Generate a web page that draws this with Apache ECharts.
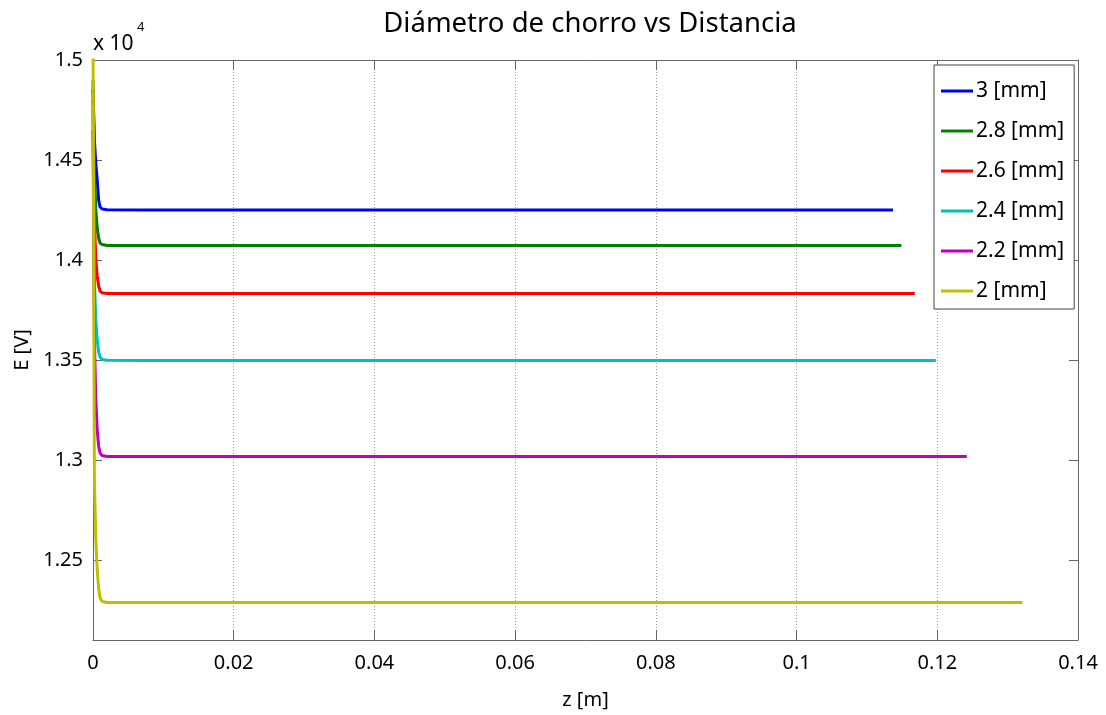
<!DOCTYPE html>
<html>
<head>
<meta charset="utf-8">
<script src="https://cdn.jsdelivr.net/npm/echarts@6/dist/echarts.min.js"></script>
<style>html,body{margin:0;padding:0;background:#fff;}#c{width:1106px;height:715px;}</style>
</head>
<body>
<div id="c"></div>
<script>
// z [m] sample positions shared by the start of every curve
var zStart = [0, 0.0002, 0.0004, 0.0006, 0.0008, 0.001, 0.0013, 0.002, 0.0075];
// series names
var seriesNames = ['3 [mm]', '2.8 [mm]', '2.6 [mm]', '2.4 [mm]', '2.2 [mm]', '2 [mm]'];
// last z value of each curve
var zEnd = [0.1137, 0.1149, 0.1168, 0.1198, 0.1242, 0.1321];
// E [V] values at zStart points, then at zEnd
var e3mm  = [14855, 14600, 14480, 14400, 14300, 14265, 14255, 14251, 14250, 14250];
var e28mm = [14900, 14450, 14250, 14160, 14110, 14085, 14077, 14073, 14072, 14072];
var e26mm = [14800, 14200, 14000, 13920, 13870, 13845, 13836, 13833, 13832, 13832];
var e24mm = [14750, 13900, 13700, 13600, 13540, 13515, 13503, 13499, 13498, 13498];
var e22mm = [14650, 13600, 13300, 13150, 13070, 13035, 13022, 13018, 13017, 13017];
var e2mm  = [15200, 12900, 12600, 12450, 12360, 12310, 12292, 12288, 12287, 12287];
var seriesValues = [e3mm, e28mm, e26mm, e24mm, e22mm, e2mm];
// tick labels
var yTicks = [12500, 13000, 13500, 14000, 14500, 15000];
var colors = ['#0000FF', '#008000', '#FF0000', '#00BFBF', '#BF00BF', '#BFBF00'];

var FONT = 'Noto Sans';
var series = seriesNames.map(function (name, i) {
  var zs = zStart.concat([zEnd[i]]);
  return {
    name: name,
    type: 'line',
    xAxisIndex: 0,
    yAxisIndex: 0,
    showSymbol: false,
    symbol: 'none',
    lineStyle: { width: 3, color: colors[i] },
    itemStyle: { color: colors[i] },
    data: zs.map(function (z, k) { return [z, seriesValues[i][k]]; })
  };
});

var axisLineStyle = { color: '#666', width: 1 };
var chart = echarts.init(document.getElementById('c'), null, { renderer: 'canvas' });
chart.setOption({
  animation: false,
  backgroundColor: '#fff',
  textStyle: { fontFamily: FONT },
  title: {
    text: 'Diámetro de chorro vs Distancia',
    left: 585, top: 5, textAlign: 'center',
    textStyle: { fontFamily: FONT, fontSize: 27.5, fontWeight: 'normal', color: '#000' }
  },
  grid: { left: 93, right: 28, top: 60, bottom: 75, containLabel: false },
  legend: {
    orient: 'vertical',
    left: 934, top: 65,
    padding: [14, 10, 6, 7],
    itemGap: 16,
    itemWidth: 32, itemHeight: 3,
    icon: 'rect',
    borderColor: '#444', borderWidth: 1,
    backgroundColor: '#fff',
    textStyle: { fontFamily: FONT, fontSize: 21, color: '#000', lineHeight: 24, padding: [0, 0, 0, -2] },
    data: seriesNames
  },
  xAxis: [{
    type: 'value', position: 'bottom', min: 0, max: 0.14, interval: 0.02,
    name: 'z [m]', nameLocation: 'middle', nameGap: 50,
    nameTextStyle: { fontFamily: FONT, fontSize: 20, color: '#000' },
    axisLine: { show: true, onZero: false, lineStyle: axisLineStyle },
    axisTick: { show: true, inside: true, length: 10, lineStyle: axisLineStyle },
    axisLabel: { show: true, margin: 13, fontFamily: FONT, fontSize: 20, color: '#000',
      formatter: function (v) { return String(parseFloat(v.toFixed(2))); } },
    splitLine: { show: true, lineStyle: { color: '#999', width: 1, type: [1, 2] } }
  }, {
    type: 'value', position: 'top', min: 0, max: 0.14, interval: 0.02,
    axisLine: { show: true, onZero: false, lineStyle: axisLineStyle },
    axisTick: { show: true, inside: true, length: 10, lineStyle: axisLineStyle },
    axisLabel: { show: false },
    splitLine: { show: false }
  }],
  yAxis: [{
    type: 'value', position: 'left', min: 12100, max: 15000,
    name: 'E [V]', nameLocation: 'middle', nameGap: 56, nameRotate: 90,
    nameTextStyle: { fontFamily: FONT, fontSize: 20, color: '#000' },
    axisLine: { show: true, onZero: false, lineStyle: axisLineStyle },
    axisTick: { show: true, inside: true, length: 9, lineStyle: axisLineStyle, customValues: yTicks },
    axisLabel: { show: true, margin: 10, fontFamily: FONT, fontSize: 20, color: '#000', customValues: yTicks,
      formatter: function (v) { return String(parseFloat((v / 10000).toFixed(2))); } },
    splitLine: { show: false }
  }, {
    type: 'value', position: 'right', min: 12100, max: 15000,
    axisLine: { show: true, onZero: false, lineStyle: axisLineStyle },
    axisTick: { show: true, inside: true, length: 9, lineStyle: axisLineStyle, customValues: yTicks },
    axisLabel: { show: false, customValues: yTicks },
    splitLine: { show: false }
  }],
  graphic: [
    { type: 'text', left: 93, top: 34, style: { text: 'x 10', fontFamily: FONT, fontSize: 21, fill: '#000' } },
    { type: 'text', left: 137, top: 21, style: { text: '4', fontFamily: FONT, fontSize: 13, fill: '#000' } }
  ],
  series: series
});
</script>
</body>
</html>
